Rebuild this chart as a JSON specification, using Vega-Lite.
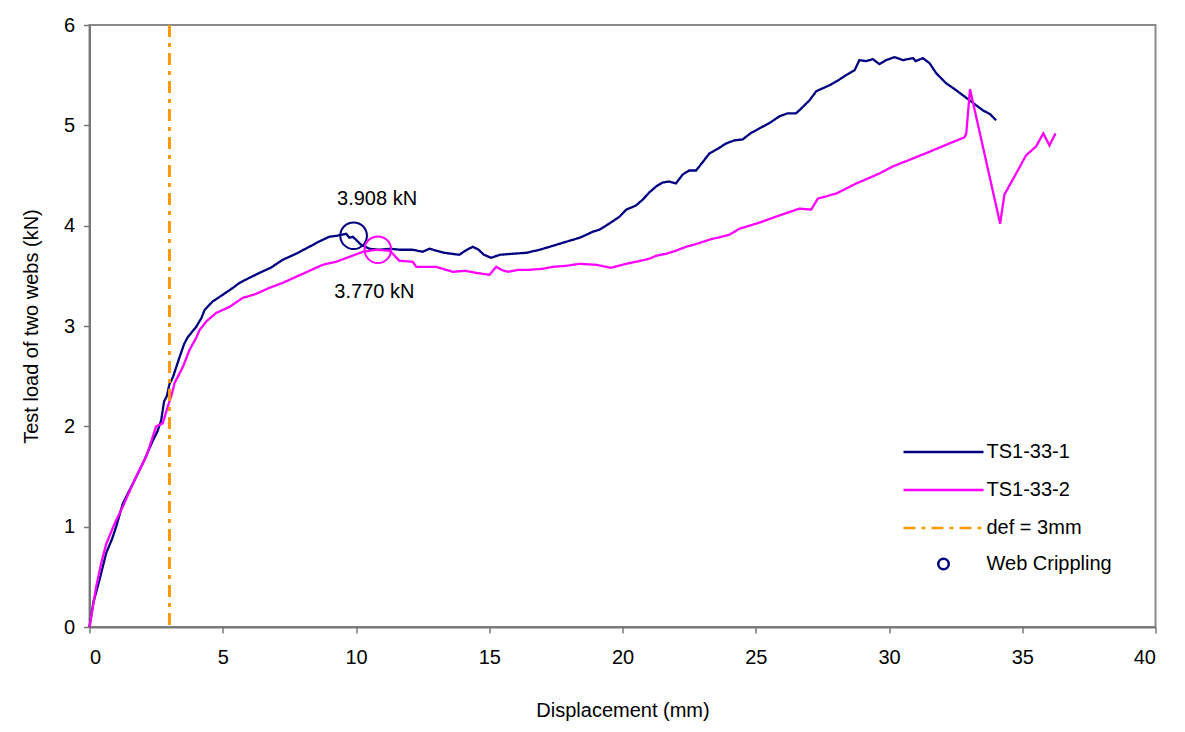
{
  "$schema": "https://vega.github.io/schema/vega-lite/v6.json",
  "width": 1066,
  "height": 602,
  "autosize": "none",
  "padding": {"left": 89.5, "top": 25, "right": 29.5, "bottom": 105},
  "background": "white",
  "config": {
    "font": "Liberation Sans",
    "view": {"stroke": "#8a8a8a", "strokeWidth": 2},
    "axis": {
      "domainColor": "#777777", "domainWidth": 2,
      "tickColor": "#777777", "tickWidth": 1.5, "tickSize": 6,
      "labelFont": "Liberation Sans", "labelFontSize": 20, "labelColor": "#000000",
      "titleFont": "Liberation Sans", "titleFontSize": 20, "titleFontWeight": "normal", "titleColor": "#000000",
      "grid": false
    },
    "legend": {"labelFont": "Liberation Sans", "labelFontSize": 20, "labelColor": "#000000", "padding": 0}
  },
  "datasets": {
    "curves": [
      {"series": "TS1-33-1", "x": 0, "y": 0},
      {"series": "TS1-33-1", "x": 0.15, "y": 0.25},
      {"series": "TS1-33-1", "x": 0.375, "y": 0.47},
      {"series": "TS1-33-1", "x": 0.63, "y": 0.74},
      {"series": "TS1-33-1", "x": 0.85, "y": 0.88},
      {"series": "TS1-33-1", "x": 1.0, "y": 1.0},
      {"series": "TS1-33-1", "x": 1.25, "y": 1.23},
      {"series": "TS1-33-1", "x": 1.63, "y": 1.43},
      {"series": "TS1-33-1", "x": 2.0, "y": 1.63},
      {"series": "TS1-33-1", "x": 2.38, "y": 1.86},
      {"series": "TS1-33-1", "x": 2.55, "y": 1.95},
      {"series": "TS1-33-1", "x": 2.69, "y": 2.06},
      {"series": "TS1-33-1", "x": 2.8, "y": 2.25},
      {"series": "TS1-33-1", "x": 2.9, "y": 2.3},
      {"series": "TS1-33-1", "x": 3.0, "y": 2.42},
      {"series": "TS1-33-1", "x": 3.13, "y": 2.49},
      {"series": "TS1-33-1", "x": 3.38, "y": 2.69},
      {"series": "TS1-33-1", "x": 3.55, "y": 2.82},
      {"series": "TS1-33-1", "x": 3.69, "y": 2.89},
      {"series": "TS1-33-1", "x": 4.0, "y": 2.99},
      {"series": "TS1-33-1", "x": 4.2, "y": 3.08},
      {"series": "TS1-33-1", "x": 4.32, "y": 3.16},
      {"series": "TS1-33-1", "x": 4.6, "y": 3.24},
      {"series": "TS1-33-1", "x": 4.88, "y": 3.29},
      {"series": "TS1-33-1", "x": 5.38, "y": 3.38},
      {"series": "TS1-33-1", "x": 5.63, "y": 3.43},
      {"series": "TS1-33-1", "x": 6.0, "y": 3.48},
      {"series": "TS1-33-1", "x": 6.38, "y": 3.53},
      {"series": "TS1-33-1", "x": 6.8, "y": 3.58},
      {"series": "TS1-33-1", "x": 7.25, "y": 3.66},
      {"series": "TS1-33-1", "x": 7.75, "y": 3.72},
      {"series": "TS1-33-1", "x": 8.25, "y": 3.79},
      {"series": "TS1-33-1", "x": 8.6, "y": 3.84},
      {"series": "TS1-33-1", "x": 9.0, "y": 3.89},
      {"series": "TS1-33-1", "x": 9.3, "y": 3.9},
      {"series": "TS1-33-1", "x": 9.63, "y": 3.92},
      {"series": "TS1-33-1", "x": 9.75, "y": 3.88},
      {"series": "TS1-33-1", "x": 9.88, "y": 3.89},
      {"series": "TS1-33-1", "x": 10.0, "y": 3.86},
      {"series": "TS1-33-1", "x": 10.19, "y": 3.81},
      {"series": "TS1-33-1", "x": 10.5, "y": 3.77},
      {"series": "TS1-33-1", "x": 10.88, "y": 3.76},
      {"series": "TS1-33-1", "x": 11.3, "y": 3.77},
      {"series": "TS1-33-1", "x": 11.63, "y": 3.76},
      {"series": "TS1-33-1", "x": 12.13, "y": 3.76},
      {"series": "TS1-33-1", "x": 12.5, "y": 3.74},
      {"series": "TS1-33-1", "x": 12.76, "y": 3.77},
      {"series": "TS1-33-1", "x": 13.3, "y": 3.73},
      {"series": "TS1-33-1", "x": 13.88, "y": 3.71},
      {"series": "TS1-33-1", "x": 14.1, "y": 3.75},
      {"series": "TS1-33-1", "x": 14.38, "y": 3.79},
      {"series": "TS1-33-1", "x": 14.6, "y": 3.76},
      {"series": "TS1-33-1", "x": 14.8, "y": 3.71},
      {"series": "TS1-33-1", "x": 15.07, "y": 3.68},
      {"series": "TS1-33-1", "x": 15.4, "y": 3.71},
      {"series": "TS1-33-1", "x": 15.88, "y": 3.72},
      {"series": "TS1-33-1", "x": 16.4, "y": 3.73},
      {"series": "TS1-33-1", "x": 16.89, "y": 3.76},
      {"series": "TS1-33-1", "x": 17.4, "y": 3.8},
      {"series": "TS1-33-1", "x": 17.89, "y": 3.84},
      {"series": "TS1-33-1", "x": 18.4, "y": 3.88},
      {"series": "TS1-33-1", "x": 18.89, "y": 3.94},
      {"series": "TS1-33-1", "x": 19.14, "y": 3.96},
      {"series": "TS1-33-1", "x": 19.5, "y": 4.02},
      {"series": "TS1-33-1", "x": 19.89, "y": 4.09},
      {"series": "TS1-33-1", "x": 20.14, "y": 4.16},
      {"series": "TS1-33-1", "x": 20.5, "y": 4.2},
      {"series": "TS1-33-1", "x": 20.76, "y": 4.26},
      {"series": "TS1-33-1", "x": 21.0, "y": 4.33},
      {"series": "TS1-33-1", "x": 21.26, "y": 4.39},
      {"series": "TS1-33-1", "x": 21.5, "y": 4.43},
      {"series": "TS1-33-1", "x": 21.76, "y": 4.44},
      {"series": "TS1-33-1", "x": 22.0, "y": 4.42},
      {"series": "TS1-33-1", "x": 22.26, "y": 4.51},
      {"series": "TS1-33-1", "x": 22.5, "y": 4.55},
      {"series": "TS1-33-1", "x": 22.76, "y": 4.55},
      {"series": "TS1-33-1", "x": 23.0, "y": 4.63},
      {"series": "TS1-33-1", "x": 23.26, "y": 4.72},
      {"series": "TS1-33-1", "x": 23.6, "y": 4.77},
      {"series": "TS1-33-1", "x": 23.89, "y": 4.82},
      {"series": "TS1-33-1", "x": 24.2, "y": 4.85},
      {"series": "TS1-33-1", "x": 24.51, "y": 4.86},
      {"series": "TS1-33-1", "x": 24.8, "y": 4.92},
      {"series": "TS1-33-1", "x": 25.14, "y": 4.97},
      {"series": "TS1-33-1", "x": 25.5, "y": 5.02},
      {"series": "TS1-33-1", "x": 25.89, "y": 5.09},
      {"series": "TS1-33-1", "x": 26.2, "y": 5.12},
      {"series": "TS1-33-1", "x": 26.51, "y": 5.12},
      {"series": "TS1-33-1", "x": 26.64, "y": 5.15},
      {"series": "TS1-33-1", "x": 27.02, "y": 5.25},
      {"series": "TS1-33-1", "x": 27.27, "y": 5.34},
      {"series": "TS1-33-1", "x": 27.77, "y": 5.4},
      {"series": "TS1-33-1", "x": 28.1, "y": 5.45},
      {"series": "TS1-33-1", "x": 28.39, "y": 5.5},
      {"series": "TS1-33-1", "x": 28.71, "y": 5.55},
      {"series": "TS1-33-1", "x": 28.89, "y": 5.65},
      {"series": "TS1-33-1", "x": 29.14, "y": 5.64},
      {"series": "TS1-33-1", "x": 29.39, "y": 5.66},
      {"series": "TS1-33-1", "x": 29.64, "y": 5.61},
      {"series": "TS1-33-1", "x": 29.89, "y": 5.65},
      {"series": "TS1-33-1", "x": 30.21, "y": 5.68},
      {"series": "TS1-33-1", "x": 30.52, "y": 5.65},
      {"series": "TS1-33-1", "x": 30.9, "y": 5.67},
      {"series": "TS1-33-1", "x": 31.0, "y": 5.64},
      {"series": "TS1-33-1", "x": 31.27, "y": 5.67},
      {"series": "TS1-33-1", "x": 31.52, "y": 5.62},
      {"series": "TS1-33-1", "x": 31.77, "y": 5.52},
      {"series": "TS1-33-1", "x": 32.14, "y": 5.42},
      {"series": "TS1-33-1", "x": 32.52, "y": 5.35},
      {"series": "TS1-33-1", "x": 33.02, "y": 5.25},
      {"series": "TS1-33-1", "x": 33.52, "y": 5.15},
      {"series": "TS1-33-1", "x": 33.8, "y": 5.11},
      {"series": "TS1-33-1", "x": 34.02, "y": 5.05},
      {"series": "TS1-33-2", "x": 0, "y": 0},
      {"series": "TS1-33-2", "x": 0.25, "y": 0.4},
      {"series": "TS1-33-2", "x": 0.45, "y": 0.65},
      {"series": "TS1-33-2", "x": 0.63, "y": 0.83},
      {"series": "TS1-33-2", "x": 0.94, "y": 1.03},
      {"series": "TS1-33-2", "x": 1.25, "y": 1.2},
      {"series": "TS1-33-2", "x": 1.75, "y": 1.5},
      {"series": "TS1-33-2", "x": 2.13, "y": 1.7},
      {"series": "TS1-33-2", "x": 2.5, "y": 2.0},
      {"series": "TS1-33-2", "x": 2.75, "y": 2.03},
      {"series": "TS1-33-2", "x": 2.94, "y": 2.2},
      {"series": "TS1-33-2", "x": 3.1, "y": 2.33},
      {"series": "TS1-33-2", "x": 3.19, "y": 2.43},
      {"series": "TS1-33-2", "x": 3.5, "y": 2.59},
      {"series": "TS1-33-2", "x": 3.75, "y": 2.76},
      {"series": "TS1-33-2", "x": 4.0, "y": 2.88},
      {"series": "TS1-33-2", "x": 4.13, "y": 2.96},
      {"series": "TS1-33-2", "x": 4.4, "y": 3.05},
      {"series": "TS1-33-2", "x": 4.75, "y": 3.13},
      {"series": "TS1-33-2", "x": 5.25, "y": 3.19},
      {"series": "TS1-33-2", "x": 5.75, "y": 3.28},
      {"series": "TS1-33-2", "x": 6.25, "y": 3.32},
      {"series": "TS1-33-2", "x": 6.75, "y": 3.38},
      {"series": "TS1-33-2", "x": 7.25, "y": 3.43},
      {"series": "TS1-33-2", "x": 7.75, "y": 3.49},
      {"series": "TS1-33-2", "x": 8.25, "y": 3.55},
      {"series": "TS1-33-2", "x": 8.75, "y": 3.61},
      {"series": "TS1-33-2", "x": 9.25, "y": 3.64},
      {"series": "TS1-33-2", "x": 9.76, "y": 3.69},
      {"series": "TS1-33-2", "x": 10.26, "y": 3.74},
      {"series": "TS1-33-2", "x": 10.76, "y": 3.76},
      {"series": "TS1-33-2", "x": 11.26, "y": 3.75},
      {"series": "TS1-33-2", "x": 11.38, "y": 3.72},
      {"series": "TS1-33-2", "x": 11.63, "y": 3.65},
      {"series": "TS1-33-2", "x": 12.13, "y": 3.64},
      {"series": "TS1-33-2", "x": 12.26, "y": 3.59},
      {"series": "TS1-33-2", "x": 13.0, "y": 3.59},
      {"series": "TS1-33-2", "x": 13.63, "y": 3.54},
      {"series": "TS1-33-2", "x": 14.1, "y": 3.55},
      {"series": "TS1-33-2", "x": 14.51, "y": 3.53},
      {"series": "TS1-33-2", "x": 15.01, "y": 3.51},
      {"series": "TS1-33-2", "x": 15.26, "y": 3.59},
      {"series": "TS1-33-2", "x": 15.45, "y": 3.56},
      {"series": "TS1-33-2", "x": 15.7, "y": 3.54},
      {"series": "TS1-33-2", "x": 16.1, "y": 3.56},
      {"series": "TS1-33-2", "x": 16.51, "y": 3.56},
      {"series": "TS1-33-2", "x": 17.0, "y": 3.57},
      {"series": "TS1-33-2", "x": 17.39, "y": 3.59},
      {"series": "TS1-33-2", "x": 17.9, "y": 3.6},
      {"series": "TS1-33-2", "x": 18.39, "y": 3.62},
      {"series": "TS1-33-2", "x": 19.01, "y": 3.61},
      {"series": "TS1-33-2", "x": 19.57, "y": 3.58},
      {"series": "TS1-33-2", "x": 20.14, "y": 3.62},
      {"series": "TS1-33-2", "x": 20.5, "y": 3.64},
      {"series": "TS1-33-2", "x": 21.01, "y": 3.67},
      {"series": "TS1-33-2", "x": 21.26, "y": 3.7},
      {"series": "TS1-33-2", "x": 21.64, "y": 3.72},
      {"series": "TS1-33-2", "x": 22.0, "y": 3.75},
      {"series": "TS1-33-2", "x": 22.39, "y": 3.79},
      {"series": "TS1-33-2", "x": 22.8, "y": 3.82},
      {"series": "TS1-33-2", "x": 23.26, "y": 3.86},
      {"series": "TS1-33-2", "x": 24.01, "y": 3.91},
      {"series": "TS1-33-2", "x": 24.39, "y": 3.97},
      {"series": "TS1-33-2", "x": 25.14, "y": 4.03},
      {"series": "TS1-33-2", "x": 25.76, "y": 4.09},
      {"series": "TS1-33-2", "x": 26.2, "y": 4.13},
      {"series": "TS1-33-2", "x": 26.64, "y": 4.17},
      {"series": "TS1-33-2", "x": 27.08, "y": 4.16},
      {"series": "TS1-33-2", "x": 27.33, "y": 4.27},
      {"series": "TS1-33-2", "x": 28.02, "y": 4.32},
      {"series": "TS1-33-2", "x": 28.77, "y": 4.42},
      {"series": "TS1-33-2", "x": 29.64, "y": 4.52},
      {"series": "TS1-33-2", "x": 30.14, "y": 4.59},
      {"series": "TS1-33-2", "x": 30.9, "y": 4.67},
      {"series": "TS1-33-2", "x": 31.64, "y": 4.75},
      {"series": "TS1-33-2", "x": 32.27, "y": 4.82},
      {"series": "TS1-33-2", "x": 32.83, "y": 4.88},
      {"series": "TS1-33-2", "x": 32.9, "y": 4.92},
      {"series": "TS1-33-2", "x": 33.04, "y": 5.36},
      {"series": "TS1-33-2", "x": 34.17, "y": 4.02},
      {"series": "TS1-33-2", "x": 34.33, "y": 4.31},
      {"series": "TS1-33-2", "x": 34.77, "y": 4.52},
      {"series": "TS1-33-2", "x": 35.14, "y": 4.7},
      {"series": "TS1-33-2", "x": 35.52, "y": 4.79},
      {"series": "TS1-33-2", "x": 35.79, "y": 4.92},
      {"series": "TS1-33-2", "x": 36.02, "y": 4.8},
      {"series": "TS1-33-2", "x": 36.25, "y": 4.92}
    ],
    "limit": [{"series": "def = 3mm", "x": 3}],
    "crippling": [
      {"series": "TS1-33-1", "x": 9.91, "y": 3.9},
      {"series": "TS1-33-2", "x": 10.82, "y": 3.76}
    ],
    "labels": [
      {"x": 10.79, "y": 4.27, "label": "3.908 kN"},
      {"x": 10.69, "y": 3.34, "label": "3.770 kN"}
    ]
  },
  "layer": [
    {
      "data": {"name": "curves"},
      "mark": {"type": "line", "strokeWidth": 2.3, "interpolate": "linear"},
      "encoding": {
        "x": {"field": "x", "type": "quantitative", "scale": {"domain": [0, 40], "nice": false, "zero": false},
              "axis": {"values": [0, 5, 10, 15, 20, 25, 30, 35, 40], "format": "d", "title": "Displacement (mm)", "labelPadding": 14, "titlePadding": 33}},
        "y": {"field": "y", "type": "quantitative", "scale": {"domain": [0, 6], "nice": false},
              "axis": {"values": [0, 1, 2, 3, 4, 5, 6], "format": "d", "title": "Test load of two webs (kN)", "labelPadding": 9, "titlePadding": 22}},
        "color": {"field": "series", "type": "nominal",
                  "scale": {"domain": ["TS1-33-1", "TS1-33-2", "def = 3mm"], "range": ["#000080", "#FF00FF", "#FF9900"]},
                  "legend": {"title": null, "orient": "none", "legendX": 844, "legendY": 417, "symbolType": "M-8,0H8",
                             "symbolSize": 100, "symbolStrokeWidth": 2.5, "labelOffset": 33, "rowPadding": 18}},
        "strokeDash": {"field": "series", "type": "nominal",
                       "scale": {"domain": ["TS1-33-1", "TS1-33-2", "def = 3mm"], "range": [[1, 0], [1, 0], [12, 6, 4, 6]]},
                       "legend": {"title": null, "orient": "none", "legendX": 844, "legendY": 417, "symbolType": "M-8,0H8",
                             "symbolSize": 100, "symbolStrokeWidth": 2.5, "labelOffset": 33, "rowPadding": 18}}
      }
    },
    {
      "data": {"name": "limit"},
      "mark": {"type": "rule", "strokeWidth": 3},
      "encoding": {
        "x": {"field": "x", "type": "quantitative"},
        "color": {"field": "series", "type": "nominal"},
        "strokeDash": {"field": "series", "type": "nominal"}
      }
    },
    {
      "data": {"name": "crippling"},
      "mark": {"type": "point", "filled": false, "size": 710, "strokeWidth": 2, "opacity": 1},
      "encoding": {
        "x": {"field": "x", "type": "quantitative"},
        "y": {"field": "y", "type": "quantitative"},
        "color": {"field": "series", "type": "nominal"},
        "shape": {"datum": "Web Crippling", "type": "nominal", "scale": {"range": ["circle"]},
                  "legend": {"title": null, "orient": "none", "legendX": 844, "legendY": 529, "symbolSize": 110,
                             "symbolStrokeColor": "#000080", "symbolStrokeWidth": 2.5, "symbolFillColor": "transparent", "labelOffset": 33}}
      }
    },
    {
      "data": {"name": "labels"},
      "mark": {"type": "text", "fontSize": 20, "font": "Liberation Sans", "color": "#000000", "align": "center", "baseline": "middle"},
      "encoding": {
        "x": {"field": "x", "type": "quantitative"},
        "y": {"field": "y", "type": "quantitative"},
        "text": {"field": "label"}
      }
    }
  ]
}
